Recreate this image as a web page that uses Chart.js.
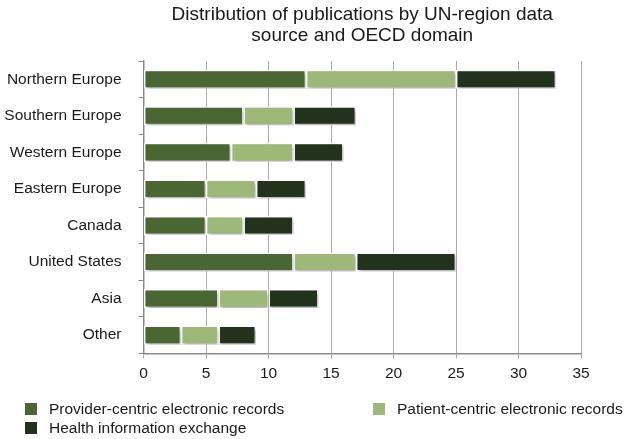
<!DOCTYPE html>
<html>
<head>
<meta charset="utf-8">
<script src="https://cdn.jsdelivr.net/npm/chart.js@4"></script>
<style>
  html, body { margin: 0; padding: 0; background: #fff; }
  #wrap { position: relative; width: 633px; height: 439px; font-family: "Liberation Sans", Arial, sans-serif; color: #1a1a1a; }
  #chart { position: absolute; left: 0; top: 0; }
  .lg { position: absolute; font-size: 15.5px; line-height: 18px; white-space: nowrap; }
  .lg span { position: absolute; left: -24px; top: 3px; width: 11.5px; height: 11.5px; }
</style>
</head>
<body>
<div id="wrap">
  <canvas id="chart" width="633" height="439"></canvas>
  <div class="lg" style="left:49px; top:400px;"><span style="background:#4a6733"></span>Provider-centric electronic records</div>
  <div class="lg" style="left:397px; top:400px;"><span style="background:#9db878"></span>Patient-centric electronic records</div>
  <div class="lg" style="left:49px; top:419px;"><span style="background:#22321d"></span>Health information exchange</div>
</div>
<script>
// data
const regions = ['Northern Europe', 'Southern Europe', 'Western Europe', 'Eastern Europe',
                 'Canada', 'United States', 'Asia', 'Other'];
const providerCentric = [13, 8, 7, 5, 5, 12, 6, 3];
const patientCentric  = [12, 4, 5, 4, 3, 5, 4, 3];
const healthExchange  = [8, 5, 4, 4, 4, 8, 4, 3];
const xTicks = [0, 5, 10, 15, 20, 25, 30, 35];
const titleLines = ['Distribution of publications by UN-region data', 'source and OECD domain'];

const textColor = '#1a1a1a';
const fontFamily = '"Liberation Sans", Arial, sans-serif';

// title centred over the plot area
const titlePlugin = {
    id: 'plotTitle',
    afterDraw(chart) {
        const { ctx, chartArea } = chart;
        const cx = (chartArea.left + chartArea.right) / 2;
        ctx.save();
        ctx.fillStyle = textColor;
        ctx.font = '19px ' + fontFamily;
        ctx.textAlign = 'center';
        ctx.textBaseline = 'middle';
        ctx.fillText(titleLines[0], cx, 15);
        ctx.fillText(titleLines[1], cx, 36);
        ctx.restore();
    }
};

// soft drop shadow under the bars
const shadowPlugin = {
    id: 'barShadow',
    beforeDatasetDraw(chart) {
        const ctx = chart.ctx;
        ctx.save();
        ctx.shadowColor = 'rgba(0,0,0,0.35)';
        ctx.shadowBlur = 3;
        ctx.shadowOffsetX = 1;
        ctx.shadowOffsetY = 2;
    },
    afterDatasetDraw(chart) {
        chart.ctx.restore();
    }
};

const barStyle = {
    borderColor: '#ffffff',
    borderWidth: 1.5,
    borderSkipped: false,
    barPercentage: 0.52,
    categoryPercentage: 1
};

new Chart(document.getElementById('chart'), {
    type: 'bar',
    data: {
        labels: regions,
        datasets: [
            { label: 'Provider-centric electronic records', data: providerCentric, backgroundColor: '#4a6733', ...barStyle },
            { label: 'Patient-centric electronic records', data: patientCentric, backgroundColor: '#9db878', ...barStyle },
            { label: 'Health information exchange', data: healthExchange, backgroundColor: '#22321d', ...barStyle }
        ]
    },
    options: {
        indexAxis: 'y',
        responsive: false,
        animation: false,
        layout: { padding: { top: 61, left: 0, right: 52, bottom: 50 } },
        plugins: {
            legend: { display: false },
            title: { display: false },
            tooltip: { enabled: false }
        },
        scales: {
            x: {
                stacked: true,
                min: 0,
                max: 35,
                afterBuildTicks(scale) {
                    scale.ticks = xTicks.map(v => ({ value: v }));
                },
                grid: { color: '#a9a9a9', tickLength: 5, lineWidth: 1 },
                border: { color: '#8a8a8a', width: 1.5 },
                ticks: { color: textColor, padding: 6, font: { family: fontFamily, size: 15.5 } }
            },
            y: {
                stacked: true,
                afterFit(scale) { scale.width = 143.5; },
                grid: { drawOnChartArea: false, tickLength: 5, color: '#8a8a8a' },
                border: { color: '#8a8a8a', width: 1.5 },
                ticks: { color: textColor, padding: 17, font: { family: fontFamily, size: 15.5 } }
            }
        }
    },
    plugins: [titlePlugin, shadowPlugin]
});
</script>
</body>
</html>
